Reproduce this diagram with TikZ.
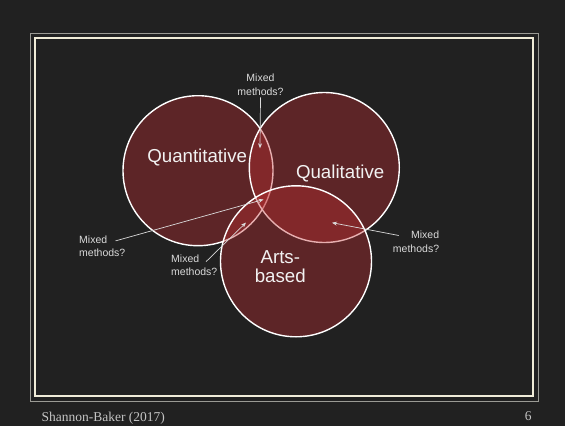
\documentclass[tikz,border=0pt]{standalone}
\usepackage{fontspec}
\setmainfont{Liberation Sans}
\newfontfamily\footfont{Liberation Serif}
\usetikzlibrary{arrows.meta}

\definecolor{slidebg}{HTML}{212121}
\definecolor{vennred}{RGB}{192,46,49}
\definecolor{framecream}{HTML}{F0ECD8}
\definecolor{framegray}{HTML}{9A9A94}
\definecolor{labelgray}{HTML}{DADADA}
\definecolor{footgray}{HTML}{C4C4C4}

\begin{document}
\begin{tikzpicture}[x=1pt, y=-1pt]
    \tikzstyle{venn} = [circle, minimum size=150pt, inner sep=0pt, draw=white, line width=1.4pt, fill=vennred, fill opacity=0.38]
    \tikzstyle{field} = [inner sep=0pt, text=white!95!black, font=\fontsize{18.7}{18.5}\selectfont, align=center, anchor=base]
    \tikzstyle{mixed} = [inner sep=0pt, text=labelgray, font=\fontsize{10.5}{13.5}\selectfont]
    \tikzstyle{pointer} = [draw=labelgray, line width=0.7pt, -{Stealth[length=5pt,width=4pt]}]
    \tikzstyle{footer} = [inner sep=0pt, text=footgray, font=\footfont\fontsize{13.5}{16}\selectfont]

    % Slide background and frame
    \fill [slidebg] (0,0) rectangle (565,426);
    \draw [framegray, line width=0.8pt] (30.7,33) rectangle (538.7,401.7);
    \draw [framecream, line width=1.7pt] (34.7,38.3) rectangle (533.3,396);

    % Circles
    \node [venn] (quant_circle) at (198,170.7) {};
    \node [venn] (qual_circle) at (324.3,167.5) {};
    \node [venn, minimum size=151pt] (arts_circle) at (296,261.3) {};

    % Circle labels (base = last line)
    \node [field] (quant_label) at (197.2,162.5) {Quantitative};
    \node [field] (qual_label) at (340.2,178) {Qualitative};
    \node [field] (arts_label) at (280.3,282.3) {Arts-\\based};

    % Overlap points
    \coordinate (tip_top) at (260,148.3);
    \coordinate (tip_left) at (263.5,199.5);
    \coordinate (tip_low) at (246,222.6);
    \coordinate (tip_right) at (332,222.7);

    % Mixed methods labels
    \node [mixed, align=center, anchor=base] (mixed_top) at (260.5,95) {Mixed\\methods?};
    \node [mixed, align=left, anchor=base west] (mixed_left) at (79,256.7) {Mixed\\methods?};
    \node [mixed, align=left, anchor=base west] (mixed_low) at (171,275.5) {Mixed\\methods?};
    \node [mixed, align=right, anchor=base east] (mixed_right) at (439.3,252.3) {Mixed\\methods?};

    % Pointers
    \draw [pointer] ([yshift=-2pt]mixed_top.south) -- (tip_top);
    \draw [pointer] ([xshift=-10pt, yshift=-5.5pt]mixed_left.north east) -- (tip_left);
    \draw [pointer] ([xshift=-11.5pt, yshift=-7.5pt]mixed_low.north east) -- (tip_low);
    \draw [pointer] ([xshift=6pt, yshift=-4.5pt]mixed_right.north west) -- (tip_right);

    % Footer
    \node [footer, anchor=base west] (source) at (41.4,421.5) {Shannon-Baker (2017)};
    \node [footer, anchor=base] (page_no) at (528.3,420) {6};
\end{tikzpicture}
\end{document}
